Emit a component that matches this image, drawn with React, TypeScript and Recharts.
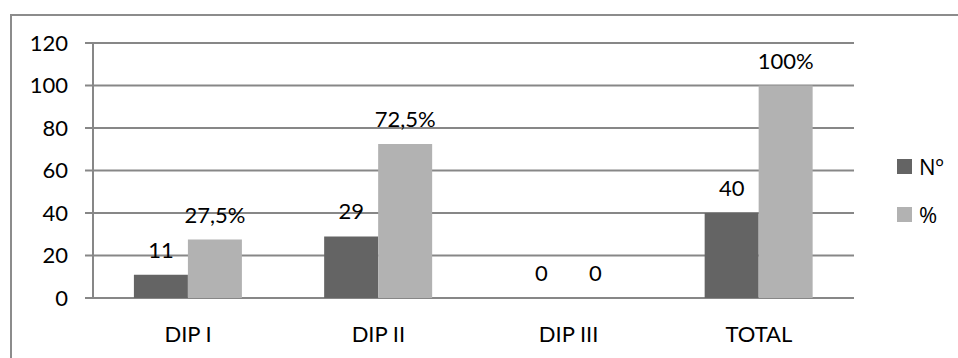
import { BarChart, Bar, XAxis, YAxis, CartesianGrid, LabelList } from "recharts";

const categories = ["DIP I", "DIP II", "DIP III", "TOTAL"];
const countValues = [11, 29, 0, 40];
const percentValues = [27.5, 72.5, 0, 100];
const percentLabels = ["27,5%", "72,5%", "0", "100%"];
const yTicks = [0, 20, 40, 60, 80, 100, 120];

const SERIES = [
  { key: "n", name: "Nº", color: "#646464" },
  { key: "pct", name: "%", color: "#b2b2b2" },
];

const FONT = "Lato, 'DejaVu Sans', sans-serif";
const FS = 22;
const GRID = "#878787";

const data = categories.map((name, i) => ({
  name,
  n: countValues[i],
  pct: percentValues[i],
  pctLabel: percentLabels[i],
}));

export default function App() {
  return (
    <div
      style={{
        position: "absolute",
        left: 0,
        top: 0,
        width: 958,
        height: 358,
        overflow: "hidden",
        background: "#fff",
        fontFamily: FONT,
      }}
    >
      {/* chart frame */}
      <div
        style={{
          position: "absolute",
          left: 10,
          top: 14,
          width: 970,
          height: 370,
          border: "2px solid #8c8c8c",
        }}
      />
      <BarChart
        width={958}
        height={358}
        data={data}
        margin={{ top: 43, right: 104, bottom: 0, left: 0 }}
        barCategoryGap="21.5%"
        barGap={0}
        style={{ position: "absolute", left: 0, top: 0 }}
      >
        <CartesianGrid vertical={false} stroke={GRID} strokeWidth={2} xAxisId="cat" />
        {/* tick marks between categories */}
        <XAxis
          xAxisId="edge"
          type="number"
          domain={[0, 4]}
          ticks={[0, 1, 2, 3, 4]}
          allowDataOverflow
          height={0}
          tick={false}
          tickSize={8}
          stroke={GRID}
          strokeWidth={2}
        />
        <XAxis
          xAxisId="cat"
          dataKey="name"
          axisLine={false}
          tickLine={false}
          tickSize={0}
          tickMargin={28}
          height={60}
          tick={{ fill: "#000", fontSize: FS, fontFamily: FONT }}
        />
        <YAxis
          domain={[0, 120]}
          ticks={yTicks}
          width={93}
          tickSize={8}
          tickMargin={17}
          stroke={GRID}
          strokeWidth={2}
          tick={{ fill: "#000", fontSize: FS, fontFamily: FONT }}
        />
        <Bar xAxisId="cat" dataKey="n" name="Nº" fill={SERIES[0].color} minPointSize={0.1} isAnimationActive={false}>
          <LabelList dataKey="n" position="top" offset={17} fill="#000" fontSize={FS} fontFamily={FONT} />
        </Bar>
        <Bar xAxisId="cat" dataKey="pct" name="%" fill={SERIES[1].color} minPointSize={0.1} isAnimationActive={false}>
          <LabelList dataKey="pctLabel" position="top" offset={17} fill="#000" fontSize={FS} fontFamily={FONT} />
        </Bar>
      </BarChart>
      {/* legend */}
      {SERIES.map((s, i) => (
        <div
          key={s.key}
          style={{
            position: "absolute",
            left: 897,
            top: 151 + i * 48,
            display: "flex",
            alignItems: "center",
            fontSize: FS,
            fontFamily: "'Open Sans', sans-serif",
            color: "#000",
          }}
        >
          <span style={{ display: "inline-block", width: 15, height: 15, background: s.color, marginRight: 7 }} />
          {s.name}
        </div>
      ))}
    </div>
  );
}
